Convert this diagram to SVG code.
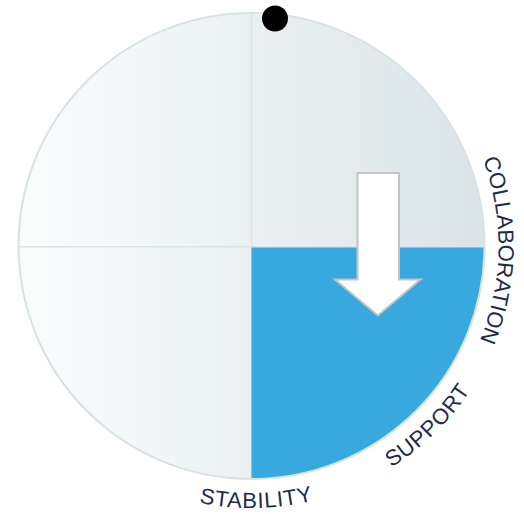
<svg xmlns="http://www.w3.org/2000/svg" width="524" height="514" viewBox="0 0 524 514">
<style>
.lbl{font-family:"Liberation Sans",Arial,sans-serif;font-size:22px;fill:#1d2b4c}
.grid{stroke:#d8e4e6;stroke-width:1.5;fill:none}
</style>
<defs>
<linearGradient id="bg" x1="18" y1="0" x2="485" y2="0" gradientUnits="userSpaceOnUse">
<stop offset="0" stop-color="#fbfdfd"/>
<stop offset="1" stop-color="#dae4e7"/>
</linearGradient>
<path id="pCollab" d="M429.17,74.41 A247,247 0 0,1 423.09,423.67"/>
<path id="pStab" d="M69.83,434.8 A262,262 0 0,0 440.3,427.67"/>
<path id="pSupp" d="M249.21,507.99 A262,262 0 0,0 513.5,248.29"/>
</defs>
<g id="wheel">
<circle cx="251.5" cy="246" r="233" fill="url(#bg)"/>
<line class="grid" x1="251.5" y1="13" x2="251.5" y2="479"/>
<line class="grid" x1="18.5" y1="246.8" x2="484.5" y2="246.8"/>
</g>
<g id="support-quadrant">
<path d="M251.5,247.5 L484.5,247.5 A233,233 0 0,1 251.5,479 Z" fill="#38a9df"/>
</g>
<g id="rim">
<circle cx="251.5" cy="246" r="233" fill="none" stroke="#d6e3e5" stroke-width="2"/>
</g>
<g id="marker-dot">
<circle cx="275" cy="18.5" r="13" fill="#000"/>
</g>
<g id="connectors">
<path d="M357.5,173 L399,173 L399,279.5 L420.5,279.5 L377.8,315.5 L335,279.5 L357.5,279.5 Z" fill="#fff" stroke="#c4c4c4" stroke-width="2" stroke-linejoin="miter"/>
</g>
<g id="label-collaboration">
<text class="lbl"><textPath href="#pCollab" startOffset="50%" text-anchor="middle">COLLABORATION</textPath></text>
</g>
<g id="label-stability">
<text class="lbl" letter-spacing="0.8"><textPath href="#pStab" startOffset="50%" text-anchor="middle">STABILITY</textPath></text>
</g>
<g id="label-support">
<text class="lbl" letter-spacing="0.8"><textPath href="#pSupp" startOffset="50%" text-anchor="middle">SUPPORT</textPath></text>
</g>
</svg>
